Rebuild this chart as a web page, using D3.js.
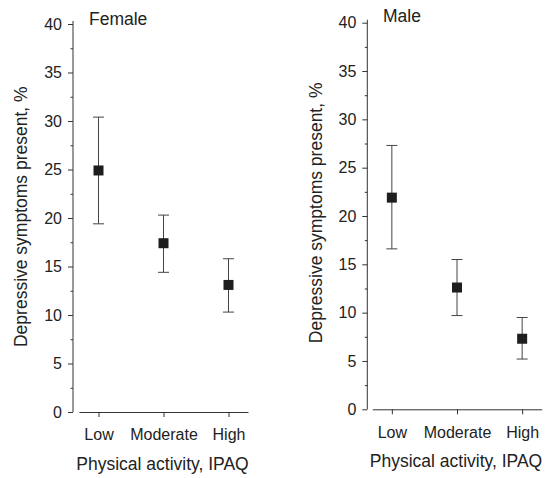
<!DOCTYPE html>
<html><head><meta charset="utf-8">
<script src="https://cdn.jsdelivr.net/npm/d3@7"></script>
<style>body{margin:0;background:#fff}svg{display:block}text{font-family:"Liberation Sans",Arial,sans-serif;fill:#222}</style>
</head><body>
<script>
const categories = ["Low", "Moderate", "High"];
const femaleMean = [24.9, 17.4, 13.1];
const femaleUpper = [30.4, 20.3, 15.8];
const femaleLower = [19.4, 14.4, 10.3];
const maleMean = [21.9, 12.6, 7.3];
const maleUpper = [27.3, 15.5, 9.5];
const maleLower = [16.6, 9.7, 5.2];
const yTicks = [0, 5, 10, 15, 20, 25, 30, 35, 40];
const yMinorTicks = [2.5, 7.5, 12.5, 17.5, 22.5, 27.5, 32.5, 37.5];
const panelTitles = ["Female", "Male"];
const yTitle = "Depressive symptoms present, %";
const xTitle = "Physical activity, IPAQ";

const svg = d3.select("body").append("svg").attr("width", 545).attr("height", 478);

const panels = [
  {title: panelTitles[0], mean: femaleMean, up: femaleUpper, lo: femaleLower,
   ax: 73, y0: 412, y1: 24, xr: [79, 248], ytx: 27, ytc: 216.7, titleX: 89, titleY: 25, xtY: 470},
  {title: panelTitles[1], mean: maleMean, up: maleUpper, lo: maleLower,
   ax: 367.3, y0: 409.3, y1: 22.7, xr: [372.3, 541.7], ytx: 321.5, ytc: 212.8, titleX: 383, titleY: 22, xtY: 467}
];

panels.forEach(p => {
  const g = svg.append("g");
  const y = d3.scaleLinear().domain([0, 40]).range([p.y0, p.y1]);
  const x = d3.scalePoint().domain(categories).range(p.xr).padding(0.3);

  const ya = g.append("g").attr("transform", `translate(${p.ax},0)`)
    .call(d3.axisLeft(y).tickValues(yTicks).tickSize(5).tickSizeOuter(0).tickPadding(6));
  ya.select(".domain").attr("stroke", "#333").attr("d", `M0,${p.y0}V${p.y1 - 3}`);
  ya.selectAll(".tick line").attr("stroke", "#333");
  ya.selectAll("text").attr("font-size", 16).attr("font-family", "Liberation Sans, Arial, sans-serif").attr("fill", "#222");

  const ym = g.append("g").attr("transform", `translate(${p.ax},0)`)
    .call(d3.axisLeft(y).tickValues(yMinorTicks).tickSize(2.5).tickFormat(""));
  ym.select(".domain").remove();
  ym.selectAll(".tick line").attr("stroke", "#333");

  const xa = g.append("g").attr("transform", `translate(0,${p.y0})`)
    .call(d3.axisBottom(x).tickSize(5).tickSizeOuter(0).tickPadding(12));
  xa.select(".domain").attr("stroke", "#333");
  xa.selectAll(".tick line").attr("stroke", "#333");
  xa.selectAll("text").attr("font-size", 16).attr("font-family", "Liberation Sans, Arial, sans-serif").attr("fill", "#222");

  g.append("text").attr("x", p.titleX).attr("y", p.titleY).attr("font-size", 17.5).text(p.title);
  g.append("text").attr("transform", `translate(${p.ytx},${p.ytc}) rotate(-90)`)
    .attr("text-anchor", "middle").attr("font-size", 17.5).text(yTitle);
  g.append("text").attr("x", (p.xr[0] + p.xr[1]) / 2 - 1).attr("y", p.xtY)
    .attr("text-anchor", "middle").attr("font-size", 17.5).text(xTitle);

  categories.forEach((c, i) => {
    const cx = x(c);
    const eg = g.append("g").attr("stroke", "#444").attr("stroke-width", 1);
    eg.append("line").attr("x1", cx).attr("x2", cx).attr("y1", y(p.up[i])).attr("y2", y(p.lo[i]));
    eg.append("line").attr("x1", cx - 5.5).attr("x2", cx + 5.5).attr("y1", y(p.up[i])).attr("y2", y(p.up[i]));
    eg.append("line").attr("x1", cx - 5.5).attr("x2", cx + 5.5).attr("y1", y(p.lo[i])).attr("y2", y(p.lo[i]));
    g.append("rect").attr("x", cx - 5).attr("y", y(p.mean[i]) - 5).attr("width", 10).attr("height", 10).attr("fill", "#1e1e1e");
  });
});
</script>
</body></html>
